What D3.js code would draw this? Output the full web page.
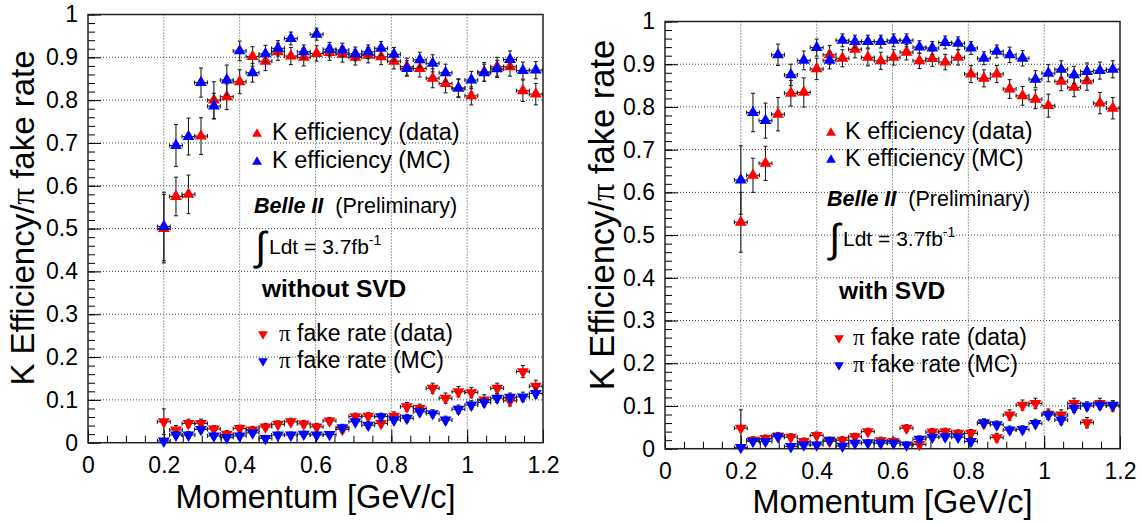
<!DOCTYPE html>
<html>
<head>
<meta charset="utf-8">
<script src="https://cdn.jsdelivr.net/npm/d3@7"></script>
<style>
  body { margin: 0; background: #fff; }
  svg { display: block; }
  text { font-family: "Liberation Sans", Arial, sans-serif; }
</style>
</head>
<body>
<svg id="svg" width="1142" height="525"></svg>
<script>
// momentum bin centres [GeV/c], shared by both panels
const momentum = [0.200, 0.232, 0.265, 0.298, 0.332, 0.366, 0.400, 0.434, 0.468, 0.501,
                  0.535, 0.569, 0.603, 0.637, 0.671, 0.705, 0.739, 0.773, 0.807, 0.841,
                  0.875, 0.909, 0.943, 0.977, 1.011, 1.045, 1.079, 1.113, 1.147, 1.181];
const binHalfWidth = 0.017;

const xTicks = [0, 0.2, 0.4, 0.6, 0.8, 1, 1.2];
const yTicks = [0, 0.1, 0.2, 0.3, 0.4, 0.5, 0.6, 0.7, 0.8, 0.9, 1];

// ---- without SVD (left) ----
const effDataNoSVD = [0.500, 0.575, 0.580, 0.716, 0.800, 0.808, 0.843, 0.902, 0.891, 0.913,
                      0.903, 0.900, 0.909, 0.911, 0.907, 0.900, 0.905, 0.901, 0.891, 0.878,
                      0.874, 0.851, 0.839, 0.828, 0.810, 0.866, 0.878, 0.878, 0.822, 0.814];
const effDataNoSVDErr = [0.080, 0.045, 0.045, 0.043, 0.043, 0.030, 0.028, 0.023, 0.022, 0.020,
                         0.020, 0.020, 0.018, 0.018, 0.018, 0.018, 0.018, 0.018, 0.018, 0.020,
                         0.020, 0.022, 0.022, 0.022, 0.021, 0.022, 0.022, 0.022, 0.025, 0.025];
const effMCNoSVD = [0.505, 0.694, 0.715, 0.841, 0.786, 0.847, 0.915, 0.864, 0.908, 0.921,
                    0.944, 0.913, 0.954, 0.919, 0.917, 0.908, 0.913, 0.921, 0.907, 0.874,
                    0.894, 0.886, 0.864, 0.828, 0.847, 0.864, 0.873, 0.895, 0.869, 0.870];
const effMCNoSVDErr = [0.080, 0.049, 0.043, 0.034, 0.030, 0.035, 0.023, 0.022, 0.020, 0.018,
                       0.015, 0.016, 0.014, 0.016, 0.016, 0.016, 0.016, 0.016, 0.016, 0.018,
                       0.018, 0.020, 0.020, 0.020, 0.020, 0.020, 0.020, 0.020, 0.020, 0.020];
const fakeDataNoSVD = [0.049, 0.030, 0.045, 0.045, 0.032, 0.020, 0.033, 0.030, 0.037, 0.043,
                       0.049, 0.044, 0.037, 0.051, 0.031, 0.061, 0.062, 0.045, 0.062, 0.084,
                       0.080, 0.127, 0.104, 0.119, 0.117, 0.100, 0.127, 0.098, 0.166, 0.132];
const fakeDataNoSVDErr = [0.030, 0.010, 0.010, 0.010, 0.008, 0.008, 0.008, 0.008, 0.008, 0.008,
                          0.008, 0.008, 0.008, 0.008, 0.008, 0.008, 0.008, 0.008, 0.010, 0.010,
                          0.010, 0.012, 0.012, 0.012, 0.012, 0.012, 0.012, 0.012, 0.014, 0.014];
const fakeMCNoSVD = [0.004, 0.018, 0.018, 0.031, 0.016, 0.012, 0.016, 0.023, 0.010, 0.018,
                     0.018, 0.020, 0.018, 0.019, 0.035, 0.049, 0.041, 0.061, 0.053, 0.057,
                     0.072, 0.068, 0.053, 0.078, 0.088, 0.094, 0.104, 0.106, 0.107, 0.115];
const fakeMCNoSVDErr = [0.006, 0.008, 0.008, 0.008, 0.007, 0.007, 0.007, 0.007, 0.007, 0.007,
                        0.007, 0.007, 0.007, 0.007, 0.008, 0.008, 0.008, 0.008, 0.008, 0.009,
                        0.009, 0.009, 0.009, 0.010, 0.010, 0.010, 0.010, 0.010, 0.011, 0.011];

// ---- with SVD (right) ----
const effDataSVD = [0.530, 0.640, 0.668, 0.783, 0.832, 0.834, 0.889, 0.922, 0.914, 0.935,
                    0.916, 0.908, 0.916, 0.928, 0.908, 0.913, 0.905, 0.916, 0.877, 0.867,
                    0.877, 0.842, 0.826, 0.818, 0.803, 0.860, 0.846, 0.861, 0.809, 0.797];
const effDataSVDErr = [0.070, 0.040, 0.040, 0.039, 0.030, 0.034, 0.025, 0.022, 0.020, 0.020,
                       0.020, 0.020, 0.018, 0.018, 0.018, 0.018, 0.018, 0.018, 0.020, 0.020,
                       0.020, 0.022, 0.022, 0.022, 0.027, 0.022, 0.022, 0.022, 0.025, 0.025];
const effMCSVD = [0.629, 0.787, 0.768, 0.922, 0.875, 0.909, 0.939, 0.909, 0.956, 0.953,
                  0.953, 0.953, 0.956, 0.956, 0.940, 0.938, 0.951, 0.949, 0.938, 0.914,
                  0.930, 0.922, 0.914, 0.865, 0.879, 0.888, 0.875, 0.883, 0.885, 0.888];
const effMCSVDErr = [0.080, 0.045, 0.041, 0.025, 0.025, 0.022, 0.020, 0.020, 0.015, 0.015,
                     0.015, 0.015, 0.015, 0.015, 0.015, 0.015, 0.015, 0.015, 0.015, 0.015,
                     0.015, 0.018, 0.018, 0.020, 0.020, 0.020, 0.020, 0.020, 0.020, 0.020];
const fakeDataSVD = [0.048, 0.020, 0.024, 0.030, 0.027, 0.017, 0.031, 0.017, 0.020, 0.028,
                     0.040, 0.019, 0.017, 0.048, 0.010, 0.039, 0.040, 0.036, 0.036, 0.059,
                     0.026, 0.079, 0.102, 0.106, 0.081, 0.079, 0.106, 0.061, 0.106, 0.100];
const fakeDataSVDErr = [0.043, 0.008, 0.008, 0.008, 0.008, 0.008, 0.008, 0.008, 0.008, 0.008,
                        0.008, 0.008, 0.008, 0.008, 0.008, 0.008, 0.008, 0.008, 0.009, 0.010,
                        0.010, 0.012, 0.012, 0.012, 0.012, 0.012, 0.012, 0.012, 0.012, 0.012];
const fakeMCSVD = [0.003, 0.017, 0.017, 0.028, 0.005, 0.009, 0.009, 0.020, 0.006, 0.013,
                   0.014, 0.013, 0.013, 0.009, 0.022, 0.027, 0.028, 0.027, 0.017, 0.061,
                   0.056, 0.044, 0.045, 0.059, 0.079, 0.067, 0.095, 0.100, 0.102, 0.102];
const fakeMCSVDErr = [0.006, 0.007, 0.007, 0.007, 0.007, 0.007, 0.007, 0.007, 0.007, 0.007,
                      0.007, 0.007, 0.007, 0.007, 0.008, 0.008, 0.008, 0.008, 0.008, 0.009,
                      0.009, 0.009, 0.009, 0.010, 0.010, 0.010, 0.010, 0.010, 0.010, 0.010];

const RED = "#ff0000", BLUE = "#0000ff";

const svg = d3.select("#svg");
svg.append("rect").attr("width", 1142).attr("height", 525).attr("fill", "#fff");

const panels = [
  {
    left: 88, right: 543, top: 14.5, bottom: 442.7,
    yTitleX: 34, yTitleY: 218, yTitleSize: 33, xTitleY: 508,
    label: "without SVD",
    series: [
      [effDataNoSVD, effDataNoSVDErr, RED, "up"],
      [effMCNoSVD, effMCNoSVDErr, BLUE, "up"],
      [fakeDataNoSVD, fakeDataNoSVDErr, RED, "down"],
      [fakeMCNoSVD, fakeMCNoSVDErr, BLUE, "down"]
    ],
    leg: { kx: 257, tx: 272, k1: 140, k2: 168, bx: 254, by: 213, ix: 255, iy: 260, lx: 269,
           sx: 262, sy: 297, px: 263, ptx: 279, p1: 341, p2: 368 }
  },
  {
    left: 665, right: 1120, top: 21.5, bottom: 448.7,
    yTitleX: 614, yTitleY: 215, yTitleSize: 34.5, xTitleY: 513,
    label: "with SVD",
    series: [
      [effDataSVD, effDataSVDErr, RED, "up"],
      [effMCSVD, effMCSVDErr, BLUE, "up"],
      [fakeDataSVD, fakeDataSVDErr, RED, "down"],
      [fakeMCSVD, fakeMCSVDErr, BLUE, "down"]
    ],
    leg: { kx: 831, tx: 845, k1: 139, k2: 166, bx: 827, by: 206, ix: 829, iy: 252, lx: 843,
           sx: 839, sy: 299, px: 839, ptx: 853, p1: 345, p2: 372 }
  }
];

const tri = d3.symbol().type(d3.symbolTriangle);

panels.forEach(p => {
  const x = d3.scaleLinear().domain([0, 1.2]).range([p.left, p.right]);
  const y = d3.scaleLinear().domain([0, 1]).range([p.bottom, p.top]);
  const g = svg.append("g");

  // grid
  g.append("g").selectAll("line")
    .data(xTicks.slice(1, -1)).join("line")
    .attr("x1", d => x(d)).attr("x2", d => x(d))
    .attr("y1", p.top).attr("y2", p.bottom)
    .attr("stroke", "#444").attr("stroke-dasharray", "1,2");
  g.append("g").selectAll("line")
    .data(yTicks.slice(1, -1)).join("line")
    .attr("y1", d => y(d)).attr("y2", d => y(d))
    .attr("x1", p.left).attr("x2", p.right)
    .attr("stroke", "#444").attr("stroke-dasharray", "1,2");

  // axes (ticks point inward, ROOT style)
  const yAxis = g.append("g").attr("transform", `translate(${p.left},0)`)
    .call(d3.axisLeft(y).tickValues(yTicks).tickSize(-13).tickPadding(10)
      .tickFormat(d => d3.format("~g")(d)));
  const yMinor = g.append("g").attr("transform", `translate(${p.left},0)`)
    .call(d3.axisLeft(y).tickValues(d3.range(51).map(i => i / 50)).tickSize(-7).tickFormat(""));
  const xAxis = g.append("g").attr("transform", `translate(0,${p.bottom})`)
    .call(d3.axisBottom(x).tickValues(xTicks).tickSize(-13).tickPadding(14)
      .tickFormat(d => d3.format("~g")(d)));
  const xMinor = g.append("g").attr("transform", `translate(0,${p.bottom})`)
    .call(d3.axisBottom(x).tickValues(d3.range(25).map(i => i / 20)).tickSize(-7).tickFormat(""));
  [yAxis, yMinor, xAxis, xMinor].forEach(a => {
    a.select(".domain").remove();
    a.selectAll("line").attr("stroke", "#000");
    a.selectAll("text").attr("font-size", 23).attr("fill", "#000")
      .attr("font-family", "Liberation Sans, Arial, sans-serif");
  });

  // frame
  g.append("rect")
    .attr("x", p.left).attr("y", p.top)
    .attr("width", p.right - p.left).attr("height", p.bottom - p.top)
    .attr("fill", "none").attr("stroke", "#222").attr("stroke-width", 1.5);

  // axis titles
  g.append("text")
    .attr("transform", `translate(${p.yTitleX},${p.yTitleY}) rotate(-90)`)
    .attr("text-anchor", "middle").attr("font-size", p.yTitleSize)
    .html('K Efficiency/<tspan font-family="Liberation Serif">π</tspan> fake rate');
  g.append("text")
    .attr("x", (p.left + p.right) / 2).attr("y", p.xTitleY)
    .attr("text-anchor", "middle").attr("font-size", 32.5)
    .text("Momentum [GeV/c]");

  // data points with error bars
  p.series.forEach(([vals, errs, color, dir]) => {
    const pts = momentum.map((m, i) => ({ m, v: vals[i], e: errs[i] }));
    const s = g.append("g");
    const eb = s.append("g").attr("stroke", "#222").attr("stroke-width", 1.1);
    eb.selectAll(".v").data(pts).join("line").attr("class", "v")
      .attr("x1", d => x(d.m)).attr("x2", d => x(d.m))
      .attr("y1", d => y(Math.max(0, d.v - d.e))).attr("y2", d => y(Math.min(1, d.v + d.e)));
    eb.selectAll(".vc1").data(pts.filter(d => d.v - d.e > 0)).join("line").attr("class", "vc1")
      .attr("x1", d => x(d.m) - 2).attr("x2", d => x(d.m) + 2)
      .attr("y1", d => y(d.v - d.e)).attr("y2", d => y(d.v - d.e));
    eb.selectAll(".vc2").data(pts).join("line").attr("class", "vc2")
      .attr("x1", d => x(d.m) - 2).attr("x2", d => x(d.m) + 2)
      .attr("y1", d => y(d.v + d.e)).attr("y2", d => y(d.v + d.e));
    eb.selectAll(".h").data(pts).join("line").attr("class", "h")
      .attr("x1", d => x(d.m - binHalfWidth)).attr("x2", d => x(d.m + binHalfWidth))
      .attr("y1", d => y(d.v)).attr("y2", d => y(d.v));
    [-1, 1].forEach(sgn => {
      eb.selectAll(".hc" + (sgn + 1)).data(pts).join("line").attr("class", "hc" + (sgn + 1))
        .attr("x1", d => x(d.m + sgn * binHalfWidth)).attr("x2", d => x(d.m + sgn * binHalfWidth))
        .attr("y1", d => y(d.v) - 2).attr("y2", d => y(d.v) + 2);
    });
    s.selectAll("path").data(pts).join("path")
      .attr("d", tri.size(62)())
      .attr("transform", d => `translate(${x(d.m)},${y(d.v)})` + (dir === "down" ? " rotate(180)" : ""))
      .attr("fill", color);
  });

  // legend / labels
  const L = p.leg;
  const leg = g.append("g").attr("font-size", 23.5);
  const legItems = [
    [L.kx, L.k1 - 6, RED, "up", L.tx, L.k1, "K efficiency (data)"],
    [L.kx, L.k2 - 6, BLUE, "up", L.tx, L.k2, "K efficiency (MC)"],
    [L.px, L.p1 - 7, RED, "down", L.ptx, L.p1, null, "fake rate (data)"],
    [L.px, L.p2 - 7, BLUE, "down", L.ptx, L.p2, null, "fake rate (MC)"]
  ];
  legItems.forEach(([mx, my, color, dir, tx, ty, txt, piTxt]) => {
    leg.append("path").attr("d", tri.size(42)())
      .attr("transform", `translate(${mx},${my})` + (dir === "down" ? " rotate(180)" : ""))
      .attr("fill", color);
    const t = leg.append("text").attr("x", tx).attr("y", ty);
    if (txt) t.text(txt);
    else t.attr("font-size", 23).html(`<tspan font-family="Liberation Serif">π</tspan> ${piTxt}`);
  });

  leg.append("text").attr("x", L.bx).attr("y", L.by).attr("font-size", 21.5)
    .html('<tspan font-weight="bold" font-style="italic">Belle II</tspan><tspan dx="12">(Preliminary)</tspan>');
  leg.append("text").attr("x", L.ix).attr("y", L.iy).attr("font-size", 40)
    .attr("font-family", "DejaVu Sans").text("∫");
  leg.append("text").attr("x", L.lx).attr("y", L.iy - 6).attr("font-size", 21)
    .html('Ldt = 3.7fb<tspan font-size="14" dy="-9">-1</tspan>');
  leg.append("text").attr("x", L.sx).attr("y", L.sy).attr("font-size", 24.5)
    .attr("font-weight", "bold").text(p.label);
});
</script>
</body>
</html>
